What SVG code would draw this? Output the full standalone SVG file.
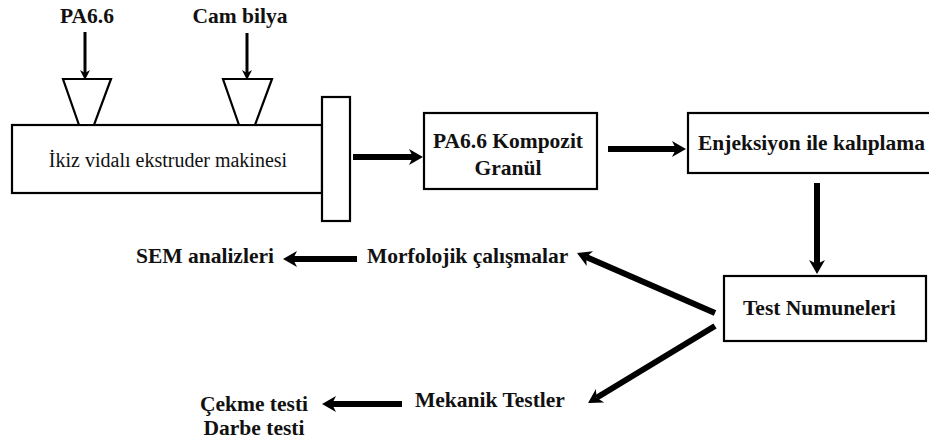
<svg xmlns="http://www.w3.org/2000/svg" width="929" height="446" viewBox="0 0 929 446">
<style>
.box{fill:#fff;stroke:#000;stroke-width:2.2}
text{font-family:'Liberation Serif','DejaVu Serif',serif;fill:#111}
.t{font-weight:bold;font-size:21.5px}
.r{font-size:20px}
.c{text-anchor:middle}
.thick{stroke:#000;stroke-width:6;fill:none;marker-end:url(#ah)}
.thin{stroke:#000;stroke-width:3;fill:none;marker-end:url(#ahs)}
</style>
<defs>
<marker id="ah" markerUnits="userSpaceOnUse" markerWidth="20" markerHeight="20" refX="4" refY="0" orient="auto" viewBox="-2 -10 20 20" overflow="visible">
<path d="M0,-8 L14,0 L0,8 L4,0 z" fill="#000"/>
</marker>
<marker id="ahs" markerUnits="userSpaceOnUse" markerWidth="14" markerHeight="14" refX="3" refY="0" orient="auto" viewBox="-2 -7 14 14" overflow="visible">
<path d="M0,-5 L10,0 L0,5 L3,0 z" fill="#000"/>
</marker>
</defs>
<rect width="929" height="446" fill="#fff"/>
<g id="extruder">
<rect class="box" x="12" y="125" width="310" height="68"/>
<rect class="box" x="322" y="97" width="28" height="124"/>
<text class="r c" x="168" y="167">İkiz vidalı ekstruder makinesi</text>
</g>
<g id="hopper1">
<polygon class="box" points="63,79 111,79 94,125 79,125"/>
</g>
<g id="hopper2">
<polygon class="box" points="223,79 272,79 255,125 239,125"/>
</g>
<g id="pa66">
<text class="t c" x="87" y="23">PA6.6</text>
</g>
<g id="cambilya">
<text class="t c" x="240" y="23">Cam bilya</text>
</g>
<g id="granul">
<rect class="box" x="424" y="113" width="173" height="76"/>
<text class="t c" x="508" y="148">PA6.6 Kompozit</text>
<text class="t c" x="508" y="175">Granül</text>
</g>
<g id="enjeksiyon">
<rect class="box" x="688" y="113" width="260" height="60"/>
<text class="t" x="698" y="150">Enjeksiyon ile kalıplama</text>
</g>
<g id="test">
<rect class="box" x="724" y="276" width="202" height="65"/>
<text class="t" x="743" y="315">Test Numuneleri</text>
</g>
<g id="morfolojik">
<text class="t" x="367" y="263">Morfolojik çalışmalar</text>
</g>
<g id="sem">
<text class="t" x="136" y="263">SEM analizleri</text>
</g>
<g id="mekanik">
<text class="t" x="415" y="407">Mekanik Testler</text>
</g>
<g id="cekme">
<text class="t c" x="254" y="411">Çekme testi</text>
<text class="t c" x="254" y="435">Darbe testi</text>
</g>
<g id="connectors">
<line class="thin" x1="85" y1="32" x2="85" y2="73"/>
<line class="thin" x1="247" y1="33" x2="247" y2="73"/>
<line class="thick" x1="353" y1="157" x2="413" y2="157"/>
<line class="thick" x1="608" y1="149" x2="676" y2="149"/>
<line class="thick" x1="817" y1="183" x2="817" y2="264"/>
<line class="thick" x1="715" y1="313" x2="586.2" y2="257"/>
<line class="thick" x1="715" y1="326" x2="596.6" y2="397.8"/>
<line class="thick" x1="357" y1="259" x2="293" y2="259"/>
<line class="thick" x1="402" y1="404" x2="332" y2="404"/>
</g>
</svg>
